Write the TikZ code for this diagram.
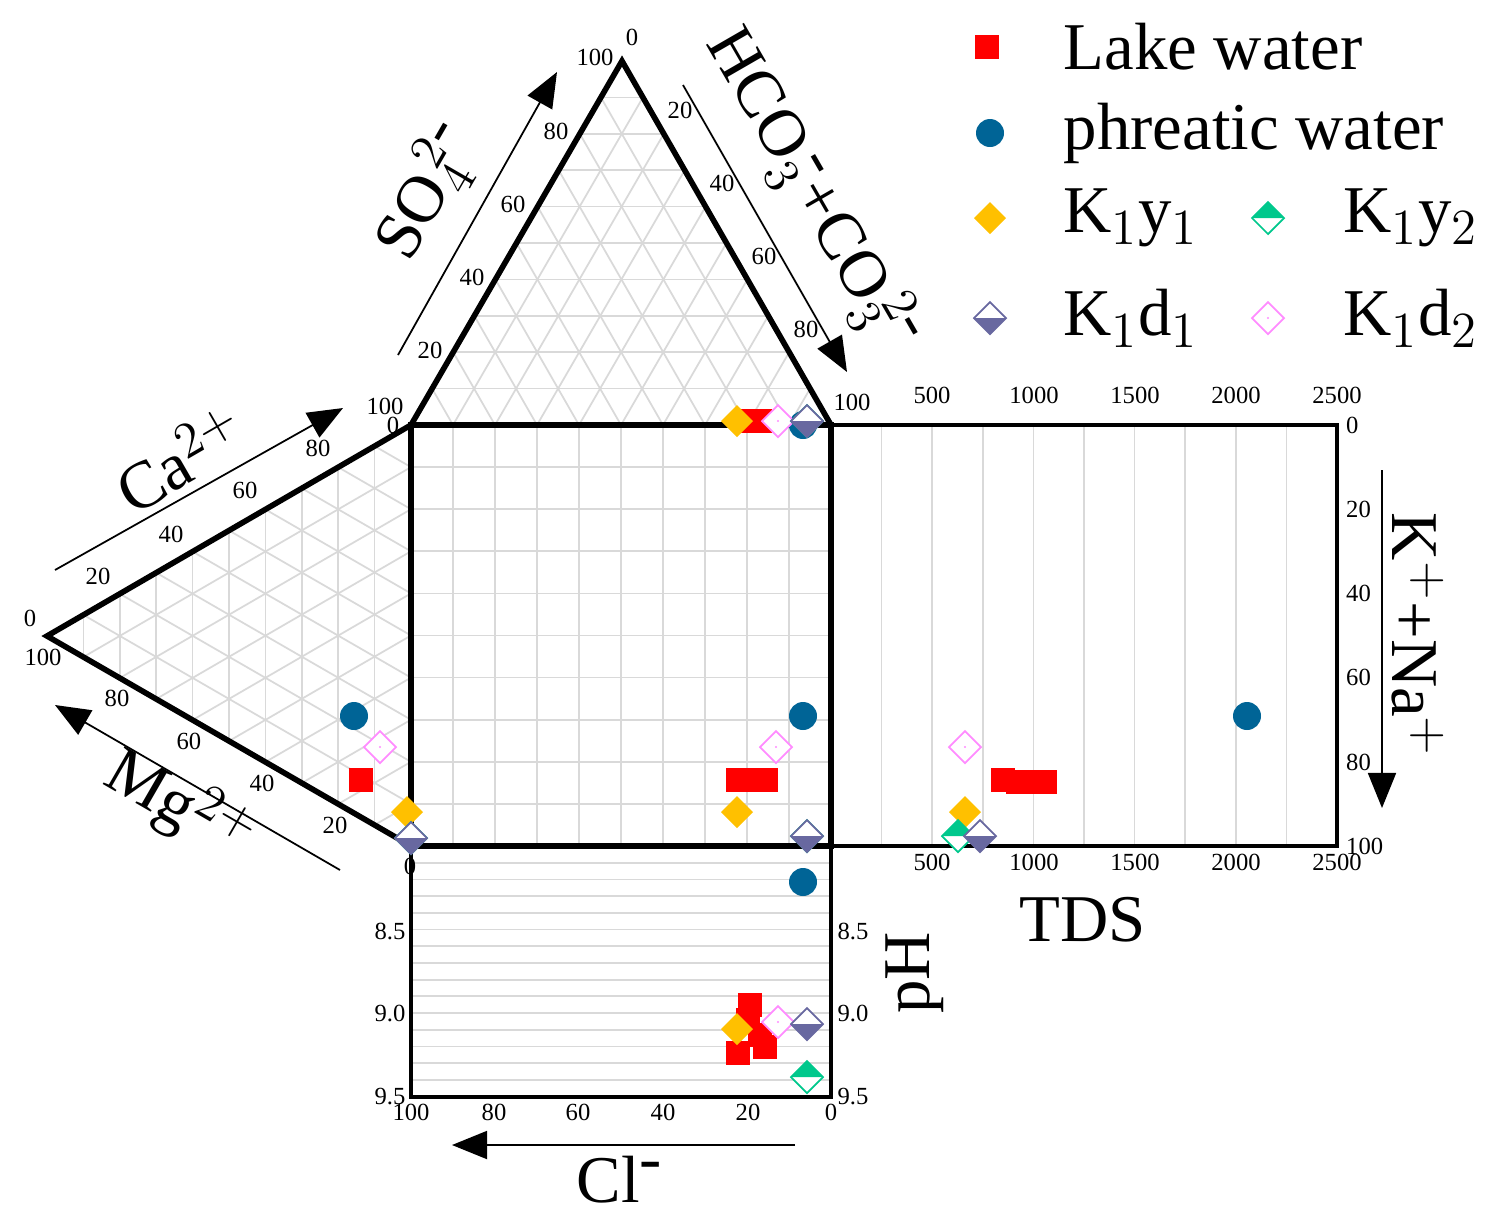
\documentclass[tikz,border=0pt]{standalone}
\usepackage{fontspec}
\setmainfont{Liberation Serif}
\usetikzlibrary{calc,arrows.meta}
\definecolor{cblue}{RGB}{0,100,150}
\definecolor{cyel}{RGB}{255,192,0}
\definecolor{cgreen}{RGB}{0,200,140}
\definecolor{cpur}{RGB}{104,104,160}
\definecolor{cpink}{RGB}{255,140,255}
\newcommand{\mn}{\mbox{-}}
\tikzset{
 grid/.style={draw=black!15,line width=0.5pt},
 frame/.style={draw=black,line width=1.6pt},
 tl/.style={font=\fontsize{7}{8}\selectfont,inner sep=1pt},
 big/.style={font=\fontsize{19}{23}\selectfont,inner sep=0pt},
 ax/.style={line width=0.5pt,-{Triangle[length=0.35cm,width=0.28cm]}},
 red/.pic={\fill[red] (-12,-12) rectangle (12,12);},
 blu/.pic={\fill[cblue] (0,0) circle (14);},
 yel/.pic={\fill[cyel] (-16,0)--(0,-16)--(16,0)--(0,16)--cycle;},
 grn/.pic={\fill[white] (-16,0)--(0,-16)--(16,0)--(0,16)--cycle;\fill[cgreen] (-16,0)--(0,-16)--(16,0)--cycle;\draw[cgreen,line width=0.5pt] (-16,0)--(0,-16)--(16,0)--(0,16)--cycle;},
 pur/.pic={\fill[white] (-16,0)--(0,-16)--(16,0)--(0,16)--cycle;\fill[cpur] (-16,0)--(0,16)--(16,0)--cycle;\draw[cpur,line width=0.5pt] (-16,0)--(0,-16)--(16,0)--(0,16)--cycle;},
 pnk/.pic={\fill[white] (-16,0)--(0,-16)--(16,0)--(0,16)--cycle;\draw[cpink,line width=0.5pt] (-16,0)--(0,-16)--(16,0)--(0,16)--cycle;\fill[cpink] (0,0) circle (1.2);},
}
\begin{document}
\begin{tikzpicture}[x=0.01cm,y=-0.01cm]
\useasboundingbox (0,0) rectangle (1490,1223);
\coordinate (A) at (411,425); \coordinate (B) at (831,425); \coordinate (C) at (622,61);
\coordinate (Q) at (411,846); \coordinate (R) at (47,636);
% grids
\foreach \i in {1,...,9}{
 \draw[grid] ($(A)!\i/10!(C)$) -- ($(B)!\i/10!(C)$);
 \draw[grid] ($(A)!\i/10!(B)$) -- ($(C)!\i/10!(B)$);
 \draw[grid] ($(B)!\i/10!(A)$) -- ($(C)!\i/10!(A)$);
 \draw[grid] ($(A)!\i/10!(R)$) -- ($(Q)!\i/10!(R)$);
 \draw[grid] ($(A)!\i/10!(Q)$) -- ($(R)!\i/10!(Q)$);
 \draw[grid] ($(Q)!\i/10!(A)$) -- ($(R)!\i/10!(A)$);
 \draw[grid] ({411+42*\i},425) -- ({411+42*\i},846);
 \draw[grid] (411,{425+42.1*\i}) -- (831,{425+42.1*\i});
 \draw[grid] ({831+50.6*\i},425) -- ({831+50.6*\i},846);
}
\foreach \i in {1,...,14}{\draw[grid] (411,{846+16.7*\i}) -- (831,{846+16.7*\i});}
% frames
\draw[frame] (A) -- (C) -- (B);
\draw[frame] (A) -- (R) -- (Q);
\draw[frame] (411,425) rectangle (831,846);
\draw[line width=1pt] (831,425) rectangle (1337,846);
\draw[line width=1pt] (411,846) rectangle (831,1097);
% tick labels top triangle
\foreach \v/\x/\y in {20/430/350,40/472/277,60/513/204,80/556/131,100/595/57}{\node[tl] at (\x,\y) {\v};}
\node[tl] at (632,37) {0};
\foreach \v/\x/\y in {20/680/110,40/722/183,60/764/256,80/806/329,100/852/402}{\node[tl] at (\x,\y) {\v};}
\node[tl] at (385,406) {100}; \node[tl] at (393,425) {0};
% left triangle
\foreach \v/\x/\y in {20/98/576,40/171/534,60/245/490,80/318/448}{\node[tl] at (\x,\y) {\v};}
\node[tl] at (30,618) {0}; \node[tl] at (43,657) {100};
\foreach \v/\x/\y in {80/117/698,60/189/741,40/262/783,20/335/825}{\node[tl] at (\x,\y) {\v};}
\node[tl] at (410,866) {0};
% TDS
\foreach \v/\x in {500/932,1000/1034,1500/1135,2000/1236,2500/1337}{\node[tl] at (\x,395) {\v}; \node[tl] at (\x,862) {\v};}
\foreach \v/\y in {0/425,20/509,40/593,60/677,80/762}{\node[tl,anchor=west] at (1342,\y) {\v};}
\node[tl,anchor=west] at (1342,846) {100};
% pH
\foreach \v/\y in {8.5/931,9.0/1013,9.5/1097}{\node[tl] at (390,\y) {\v}; \node[tl] at (853,\y) {\v};}
\foreach \v/\x in {100/411,80/494,60/578,40/663,20/748,0/831}{\node[tl] at (\x,1112) {\v};}
% axis arrows
\coordinate (s1) at (398,355); \coordinate (s2) at (557,72);
\coordinate (h1) at (683,85); \coordinate (h2) at (847,372);
\coordinate (c1) at (55,570); \coordinate (c2) at (343,408);
\coordinate (m1) at (340,870); \coordinate (m2) at (55,705);
\coordinate (k1) at (1382,470); \coordinate (k2) at (1382,808);
\coordinate (l1) at (795,1145); \coordinate (l2) at (452,1145);
\draw[ax] (s1) -- (s2); \draw[ax] (h1) -- (h2); \draw[ax] (c1) -- (c2);
\draw[ax] (m1) -- (m2); \draw[ax] (k1) -- (k2); \draw[ax] (l1) -- (l2);
\node[big,rotate=60] (so) at (428,192) {SO$_4^{\,2\mn}$};
\node[big,rotate=-60] (hc) at (812,190) {HCO$_3^{\,\mn}$+CO$_3^{\,2\mn}$};
\node[big,rotate=30] (ca) at (180,458) {Ca$^{2+}$};
\node[big,rotate=-30] (mg) at (180,806) {Mg$^{2+}$};
\node[big,rotate=-90] (kn) at (1418,635) {K$^+$+Na$^+$};
\node[big] (tds) at (1083,920) {TDS};
\node[big,rotate=90] (ph) at (915,973) {pH};
\node[big] (cl) at (620,1180) {Cl$^{\mn}$};
% data
\foreach \p in {(745,421),(760,421),(738,780),(752,780),(766,780),(361,780),(1003,780),(1018,782),(1033,782),(1045,782),(750,1005),(748,1020),(760,1035),(765,1047),(738,1053)}{\pic at \p {red};}
\foreach \p in {(803,425),(803,716),(354,716),(1247,716),(803,882)}{\pic at \p {blu};}
\foreach \p in {(737,421),(737,812),(407,812),(965,812),(737,1029)}{\pic at \p {yel};}
\foreach \p in {(778,421),(776,747),(380,747),(965,747),(778,1022)}{\pic at \p {pnk};}
\foreach \p in {(807,421),(807,836),(411,838),(958,836),(807,1077)}{\pic at \p {grn};}
\foreach \p in {(807,421),(807,836),(411,838),(980,836),(807,1024)}{\pic at \p {pur};}
% legend
\pic at (987,47) {red}; \node[big,anchor=west] (l1t) at (1063,47) {Lake water};
\pic at (990,133) {blu}; \node[big,anchor=west] (l2t) at (1063,133) {phreatic water};
\pic at (990,218) {yel}; \node[big,anchor=west] (l3t) at (1063,218) {K$_1$y$_1$};
\pic at (1268,218) {grn}; \node[big,anchor=west] (l4t) at (1343,218) {K$_1$y$_2$};
\pic at (990,318) {pur}; \node[big,anchor=west] (l5t) at (1063,318) {K$_1$d$_1$};
\pic at (1268,318) {pnk}; \node[big,anchor=west] (l6t) at (1343,318) {K$_1$d$_2$};
\end{tikzpicture}
\end{document}
